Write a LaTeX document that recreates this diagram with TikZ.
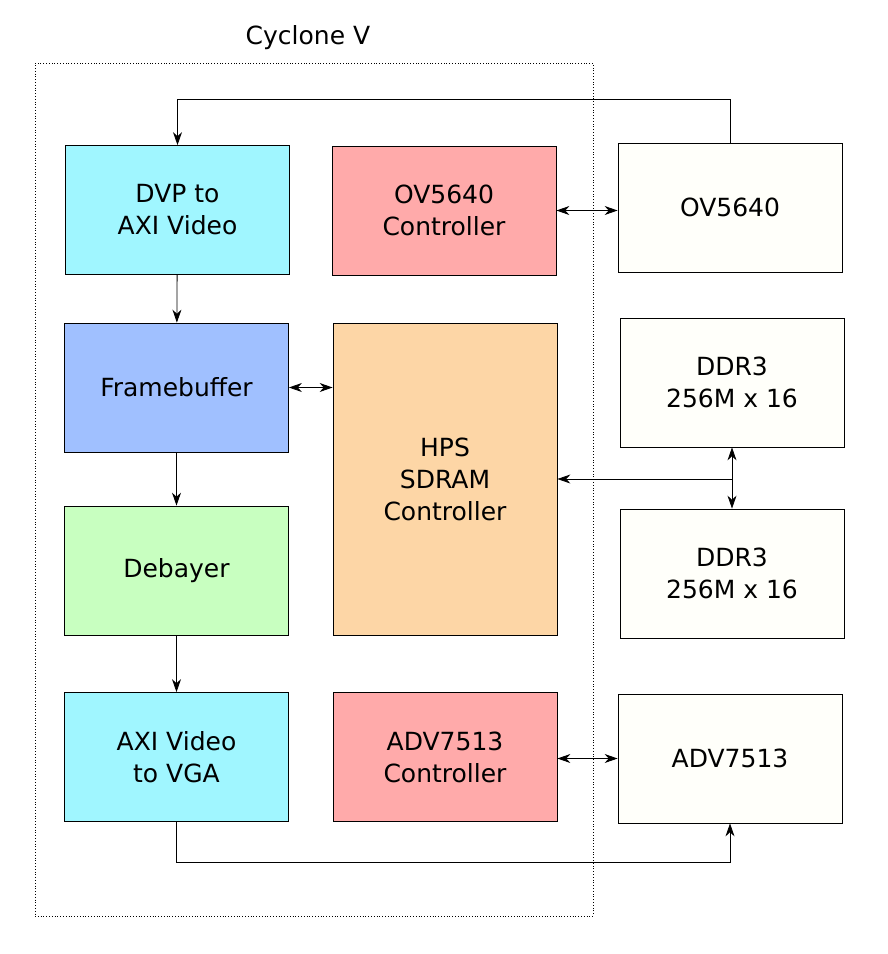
\documentclass[tikz,border=0pt]{standalone}
\usepackage{fontspec}
\setmainfont{DejaVu Sans}
\usetikzlibrary{arrows.meta}
\definecolor{videocyan}{RGB}{160,246,255}
\definecolor{ctrlpink}{RGB}{255,170,170}
\definecolor{chipwhite}{RGB}{255,255,250}
\definecolor{fbblue}{RGB}{160,192,255}
\definecolor{hpsorange}{RGB}{253,214,166}
\definecolor{debayergreen}{RGB}{200,255,192}
\tikzset {
block/.style={shape=rectangle,draw,line width=0.8pt,minimum width=224pt,minimum height=129pt,align=center,font=\fontsize{25}{32}\selectfont},
chip/.style={block,fill=chipwhite},
fpga/.style={shape=rectangle,draw,dotted,line width=0.8pt,minimum width=558pt,minimum height=853pt}
}

\begin{document}
\begin{tikzpicture}
[x=1pt,y=-1pt,>={Stealth[length=13pt,width=9pt]},line width=0.8pt]
\useasboundingbox (0,0) rectangle (888,954);
\node[fpga] (cyclone) at (314,489.5) {};
\node[font=\fontsize{25}{30}\selectfont] (cyclone label) at (308,38) {Cyclone V};
\node[block,fill=videocyan] (dvp to axi) at (177.5,210) {DVP to\\AXI Video};
\node[block,fill=ctrlpink] (ov5640 controller) at (444,210.5) {OV5640\\Controller};
\node[chip] (ov5640) at (730,207.5) {OV5640};
\node[block,fill=fbblue] (framebuffer) at (176.5,387.5) {Framebuffer};
\node[block,fill=hpsorange,minimum height=312pt] (hps) at (445,479) {HPS\\SDRAM\\Controller};
\node[chip] (ddr3 top) at (732,382.5) {DDR3\\256M x 16};
\node[chip] (ddr3 bottom) at (732,573.5) {DDR3\\256M x 16};
\node[block,fill=debayergreen] (debayer) at (176.5,570.5) {Debayer};
\node[block,fill=videocyan] (axi to vga) at (176.5,757) {AXI Video\\to VGA};
\node[block,fill=ctrlpink] (adv7513 controller) at (445,757) {ADV7513\\Controller};
\node[chip] (adv7513) at (730,758.5) {ADV7513};
\coordinate (ddr3 bus) at (ddr3 top.south |- hps.east);

\draw[->] (ov5640.north) -- ++(0,-43) -| (dvp to axi.north);
\draw[<->] (ov5640 controller.east) -- (ov5640 controller.east -| ov5640.west);
\draw[->] (dvp to axi) -- (framebuffer);
\draw[<->] (framebuffer.east) -- (framebuffer.east -| hps.west);
\draw[->] (framebuffer) -- (debayer);
\draw[->] (debayer) -- (axi to vga);
\draw[<->] (ddr3 top) -- (ddr3 bottom);
\draw[->] (ddr3 bus) -- (hps);
\draw[<->] (adv7513.west -| adv7513 controller.east) -- (adv7513.west);
\draw[->] (axi to vga.south) -- ++(0,40) -| (adv7513.south);
\end{tikzpicture}
\end{document}
